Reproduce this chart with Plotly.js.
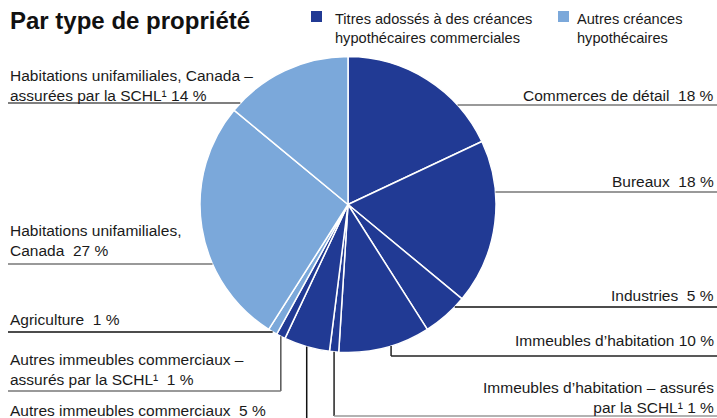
<!DOCTYPE html>
<html><head><meta charset="utf-8">
<script src="https://cdn.plot.ly/plotly-3.0.1.min.js"></script>
<style>body{margin:0;background:#fff}#c{width:717px;height:418px}</style>
</head><body><div id="c"></div>
<script>
// ---- data ----
const labels = ["Commerces de détail","Bureaux","Industries","Immeubles d’habitation",
  "Immeubles d’habitation – assurés par la SCHL","Autres immeubles commerciaux",
  "Autres immeubles commerciaux – assurés par la SCHL","Agriculture",
  "Habitations unifamiliales, Canada","Habitations unifamiliales, Canada – assurées par la SCHL"];
const values = [18,18,5,10,1,5,1,1,27,14];
const groups = ["cmbs","cmbs","cmbs","cmbs","cmbs","cmbs","cmbs","other","other","other"];
const labelTexts = [
  "Commerces de détail\u00a0\u00a018\u00a0%",
  "Bureaux\u00a0\u00a018\u00a0%",
  "Industries\u00a0\u00a05\u00a0%",
  "Immeubles d’habitation 10\u00a0%",
  "Immeubles d’habitation – assurés<br>par la SCHL¹\u00a01\u00a0%",
  "Autres immeubles commerciaux\u00a0\u00a05\u00a0%",
  "Autres immeubles commerciaux –<br>assurés par la SCHL¹\u00a0\u00a01\u00a0%",
  "Agriculture\u00a0\u00a01\u00a0%",
  "Habitations unifamiliales,<br>Canada\u00a0\u00a027\u00a0%",
  "Habitations unifamiliales, Canada –<br>assurées par la SCHL¹\u00a014\u00a0%"
];
const groupNames = {cmbs:"Titres adossés à des créances<br>hypothécaires commerciales", other:"Autres créances<br>hypothécaires"};
const titleText = "Par type de propriété";

// ---- styles / layout ----
const groupColors = {cmbs:"#213a94", other:"#7ba8da"};
const W=717,H=418, CX=348, CY=204.5, R=148;
const FONT = "Liberation Sans, Arial, sans-serif";
// leader layout per slice: side, kind, lineY, textY (block centre), anchor fraction, line colour
const leaders = [
  {side:"R",kind:"h",lineY:105,textY:95,col:"#777"},
  {side:"R",kind:"h",lineY:192,textY:181,col:"#777"},
  {side:"R",kind:"h",lineY:307,textY:295,col:"#111"},
  {side:"R",kind:"elbow",lineY:356,textY:340,frac:0.43,col:"#222"},
  {side:"R",kind:"elbow",lineY:416,textY:397,frac:0.5,col:"#999",vcol:"#222"},
  {side:"L",kind:"vert",lineY:418,textY:410,frac:0.5,col:"#111"},
  {side:"L",kind:"elbow",lineY:391,textY:369,frac:0.5,col:"#777",vcol:"#555"},
  {side:"L",kind:"pt",textY:319,frac:0.5,col:"#111"},
  {side:"L",kind:"h",lineY:264,textY:241,col:"#777"},
  {side:"L",kind:"h",lineY:103,textY:86,col:"#555"}
];

const px = x => x/W, py = y => 1 - y/H;
const total = values.reduce((a,b)=>a+b,0);
function anglePoint(i, frac){
  let c=0; for(let j=0;j<i;j++) c+=values[j];
  const a=(c+values[i]*frac)/total*2*Math.PI;
  return [CX+R*Math.sin(a), CY-R*Math.cos(a)];
}
const shapes=[], annotations=[];
leaders.forEach((L,i)=>{
  const rightEnd=W, leftEnd=8;
  if(L.kind==="h"){
    const dx=Math.sqrt(R*R-(L.lineY-CY)**2);
    const ex = L.side==="R"? CX+dx : CX-dx;
    shapes.push({type:"line",xref:"paper",yref:"paper",x0:px(ex),x1:px(L.side==="R"?rightEnd:leftEnd),y0:py(L.lineY),y1:py(L.lineY),line:{color:L.col,width:1.5}});
  } else if(L.kind==="elbow"){
    const [x,y]=anglePoint(i,L.frac);
    shapes.push({type:"line",xref:"paper",yref:"paper",x0:px(x),x1:px(x),y0:py(y),y1:py(L.lineY),line:{color:L.vcol||L.col,width:1.5}});
    shapes.push({type:"line",xref:"paper",yref:"paper",x0:px(x),x1:px(L.side==="R"?rightEnd:leftEnd),y0:py(L.lineY),y1:py(L.lineY),line:{color:L.col,width:1.5}});
  } else if(L.kind==="vert"){
    const [x,y]=anglePoint(i,L.frac);
    shapes.push({type:"line",xref:"paper",yref:"paper",x0:px(x),x1:px(x),y0:py(y),y1:py(L.lineY),line:{color:L.col,width:1.5}});
  } else if(L.kind==="pt"){
    const [x,y]=anglePoint(i,L.frac);
    shapes.push({type:"line",xref:"paper",yref:"paper",x0:px(x),x1:px(leftEnd),y0:py(y),y1:py(y),line:{color:L.col,width:1.5}});
  }
  annotations.push({xref:"paper",yref:"paper",x:px(L.side==="R"?716:8),y:py(L.textY),
    xanchor:L.side==="R"?"right":"left",yanchor:"middle",align:L.side==="R"?"right":"left",
    text:labelTexts[i],showarrow:false,font:{family:FONT,size:15.5,color:"#1a1a1a"}});
});
// title
annotations.push({xref:"paper",yref:"paper",x:px(8),y:py(21),xanchor:"left",yanchor:"middle",
  text:"<b>"+titleText+"</b>",showarrow:false,font:{family:FONT,size:24,color:"#111"}});
// custom legend
const legendPos = {cmbs:[311,333], other:[558,575]};
Object.keys(groupNames).forEach(g=>{
  const [sx,tx]=legendPos[g];
  shapes.push({type:"rect",xref:"paper",yref:"paper",x0:px(sx),x1:px(sx+11),y0:py(11),y1:py(22),fillcolor:groupColors[g],line:{width:0}});
  annotations.push({xref:"paper",yref:"paper",x:px(tx),y:py(28),xanchor:"left",yanchor:"middle",align:"left",
    text:groupNames[g],showarrow:false,font:{family:FONT,size:14.6,color:"#1a1a1a"}});
});

const trace = {type:"pie",labels:labels,values:values,sort:false,direction:"clockwise",rotation:0,
  marker:{colors:groups.map(g=>groupColors[g]),line:{color:"#fff",width:1.5}},
  textinfo:"none",hoverinfo:"label+percent",showlegend:false,
  domain:{x:[px(CX-R),px(CX+R)],y:[py(CY+R),py(CY-R)]}};
Plotly.newPlot("c",[trace],{width:W,height:H,margin:{l:0,r:0,t:0,b:0},paper_bgcolor:"#fff",
  showlegend:false,shapes:shapes,annotations:annotations},{displayModeBar:false,staticPlot:true});
</script></body></html>
